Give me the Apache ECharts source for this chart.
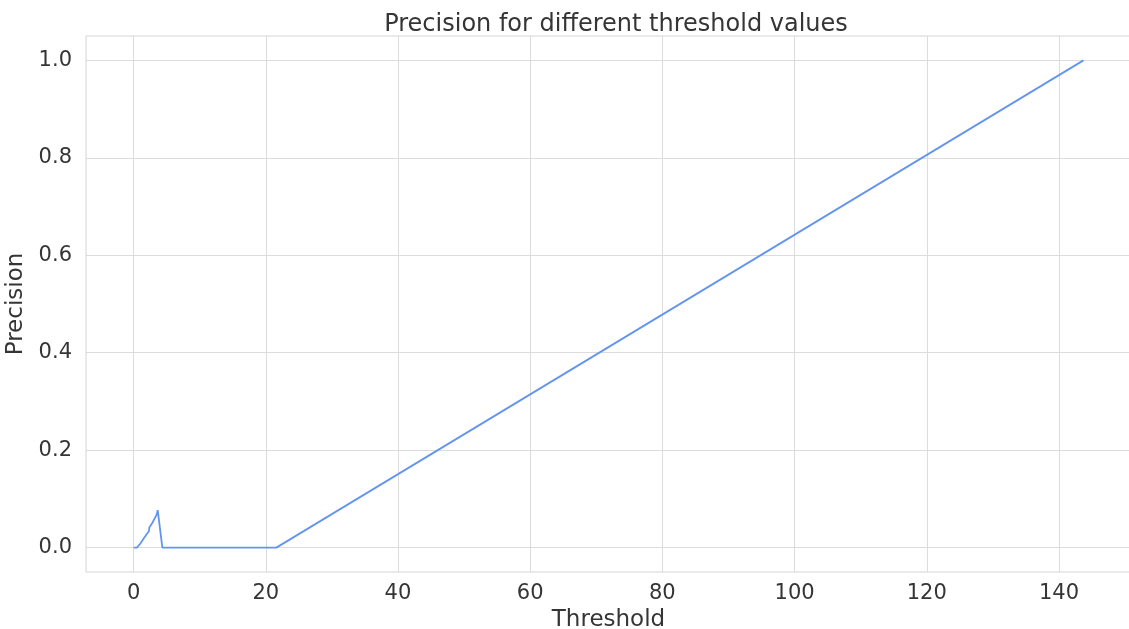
<!DOCTYPE html>
<html>
<head>
<meta charset="utf-8">
<script src="https://cdn.jsdelivr.net/npm/echarts@6/dist/echarts.min.js"></script>
<style>
  html, body { margin: 0; padding: 0; background: #fff; }
  #chart { width: 1129px; height: 629px; }
</style>
</head>
<body>
<div id="chart"></div>
<script>
// threshold -> precision
const thresholds = [0, 0.5, 1.0, 1.5, 2.0, 2.3, 2.4, 2.8, 3.2, 3.5, 3.65, 4.35, 21.6, 143.7];
const precision  = [0, 0, 0.008, 0.018, 0.028, 0.033, 0.042, 0.05, 0.06, 0.068, 0.077, 0, 0, 1.0];
const xTicks = [0, 20, 40, 60, 80, 100, 120, 140];
const yTicks = [0, 0.2, 0.4, 0.6, 0.8, 1.0];

const chart = echarts.init(document.getElementById('chart'));
const font = 'DejaVu Sans';
const textColor = '#353535';

const option = {
  animation: false,
  title: {
    text: 'Precision for different threshold values',
    left: 611,
    textAlign: 'center',
    top: 8,
    textStyle: { fontFamily: font, fontSize: 24, fontWeight: 'normal', color: textColor }
  },
  grid: {
    left: 86, top: 36, right: -2, bottom: 57,
    outerBoundsMode: 'none',
    containLabel: false,
    show: true, borderColor: '#d4d4d4', borderWidth: 1
  },
  xAxis: {
    type: 'value',
    min: -7.2, max: 150.9,
    name: 'Threshold',
    nameLocation: 'middle',
    nameGap: 33,
    nameTextStyle: { fontFamily: font, fontSize: 23, color: textColor },
    axisLine: { show: false },
    axisTick: { show: false, customValues: xTicks },
    axisLabel: { customValues: xTicks, fontFamily: font, fontSize: 21, color: textColor, margin: 11 },
    splitLine: { show: true, lineStyle: { color: '#dcdcdc', width: 1 } }
  },
  yAxis: {
    type: 'value',
    min: -0.05, max: 1.05,
    name: 'Precision',
    nameLocation: 'middle',
    nameGap: 54,
    nameTextStyle: { fontFamily: font, fontSize: 23, color: textColor },
    axisLine: { show: false },
    axisTick: { show: false, customValues: yTicks },
    axisLabel: {
      customValues: yTicks, fontFamily: font, fontSize: 21, color: textColor, margin: 14,
      formatter: v => v.toFixed(1)
    },
    splitLine: { show: true, lineStyle: { color: '#dcdcdc', width: 1 } }
  },
  series: [{
    type: 'line',
    data: thresholds.map((t, i) => [t, precision[i]]),
    showSymbol: false,
    lineStyle: { color: '#6495ED', width: 1.8 }
  }]
};

chart.setOption(option);
</script>
</body>
</html>
